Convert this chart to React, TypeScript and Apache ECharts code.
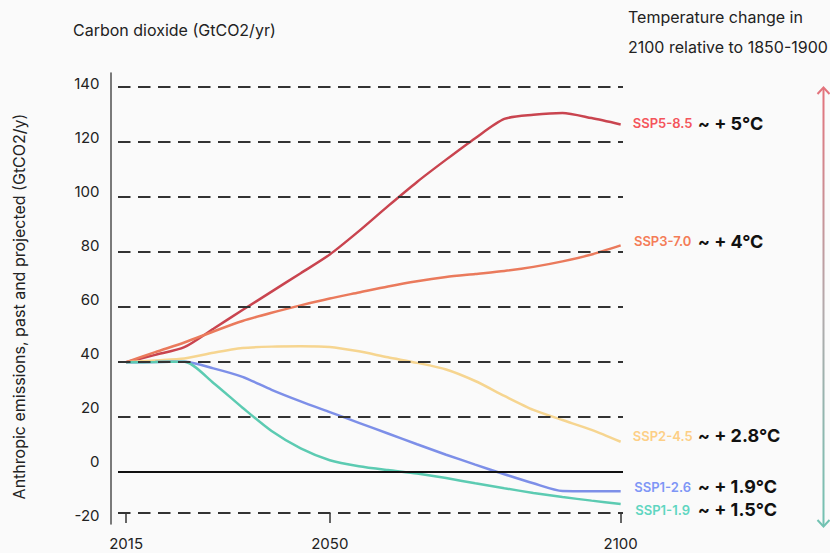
import React, { useEffect, useRef } from 'react';
import * as echarts from 'echarts';

// ---- data ----
const years = [2015, 2020, 2025, 2030, 2035, 2040, 2045, 2050, 2055, 2060, 2065, 2070, 2075, 2080, 2085, 2090, 2095, 2100];
const ssp585 = [39.8, 42.5, 45.3, 52, 58.8, 65.5, 72.2, 79, 87.5, 96.6, 105.4, 113.5, 121.3, 128.3, 129.8, 130.5, 128.6, 126.3];
const ssp370 = [39.8, 43.5, 47, 51, 54.8, 57.8, 60.5, 63, 65.2, 67.4, 69.3, 70.8, 71.9, 73, 74.5, 76.5, 79, 82.3];
const ssp245 = [39.8, 40.5, 41.2, 43.3, 45, 45.5, 45.6, 45.4, 43.8, 41.6, 39.6, 37.2, 33, 27.6, 22.5, 18.8, 15.2, 10.9];
const ssp126 = [39.8, 39.9, 40, 37.6, 34.5, 29.8, 25.6, 21.7, 17.8, 13.9, 10, 6.2, 2.6, -0.9, -4.2, -7, -7.1, -7.1];
const ssp119 = [39.8, 39.9, 40, 32.3, 23.3, 14.8, 8.5, 4.2, 2, 0.6, -0.6, -2.3, -4.2, -6, -7.7, -9.2, -10.5, -11.7];

const scenarioNames = ['SSP5-8.5', 'SSP3-7.0', 'SSP2-4.5', 'SSP1-2.6', 'SSP1-1.9'];
const scenarioValues = [ssp585, ssp370, ssp245, ssp126, ssp119];
const temperatures = ['~ + 5°C', '~ + 4°C', '~ + 2.8°C', '~ + 1.9°C', '~ + 1.5°C'];

const dashedLevels = [140, 120, 100, 80, 60, 40, 20, -15];
const zeroLevel = 0;
const yTickLabels = [140, 120, 100, 80, 60, 40, 20, 0, -20];
const xTicks = [2015, 2050, 2100];

// ---- styles ----
const lineColors = ['#c9444f', '#ea7a5c', '#f6d590', '#7d8fe8', '#5ccbb2'];
const labelColors = ['#f4545b', '#f47c57', '#fdcf86', '#7e96f6', '#5fd6c1'];
const labelOffsets = [-1, -4, -6, -4.5, 6];
const FONT = 'Inter, "Noto Sans", sans-serif';

export default function App() {
  const ref = useRef<HTMLDivElement>(null);

  useEffect(() => {
    document.body.style.margin = '0';
    const chart = echarts.init(ref.current as HTMLDivElement, null, { renderer: 'svg' });

    const series: any[] = [
      {
        type: 'line',
        xAxisIndex: 0,
        yAxisIndex: 0,
        data: [],
        silent: true,
        z: 1,
        markLine: {
          silent: true,
          symbol: ['none', 'none'],
          label: { show: false },
          data: [
            ...dashedLevels.map((v) => ({
              yAxis: v,
              lineStyle: { type: [12.5, 7.5], color: '#333', width: 2 },
            })),
            { yAxis: zeroLevel, lineStyle: { type: 'solid', color: '#111', width: 2 } },
          ],
        },
      },
    ];

    scenarioNames.forEach((name, i) => {
      const temp = temperatures[i];
      series.push({
        name,
        type: 'line',
        xAxisIndex: 0,
        yAxisIndex: 0,
        z: 3,
        data: years.map((y, k) => [y, scenarioValues[i][k]]),
        symbol: 'none',
        smooth: 0.25,
        lineStyle: { color: lineColors[i], width: 2.5 },
        endLabel: {
          show: true,
          distance: 11,
          offset: [0, labelOffsets[i]],
          formatter: () => `{n|${name}}{t|${temp}}`,
          rich: {
            n: {
              color: labelColors[i],
              fontFamily: FONT,
              fontSize: 13,
              fontWeight: 600,
              width: 62,
              align: 'right',
            },
            t: {
              color: '#111',
              fontFamily: FONT,
              fontSize: 18,
              fontWeight: 'bold',
              padding: [0, 0, 0, 4],
            },
          },
        },
      });
    });

    const arrowGradient = new echarts.graphic.LinearGradient(
      0, 88, 0, 526,
      [
        { offset: 0, color: '#e3737c' },
        { offset: 0.5, color: '#b3a9ab' },
        { offset: 1, color: '#72c2b2' },
      ],
      true
    );

    chart.setOption({
      animation: false,
      backgroundColor: '#fafafa',
      textStyle: { fontFamily: FONT },
      grid: [
        { left: 118, right: 207, top: 73, bottom: 40 },
        { left: 110.5, width: 20, top: 73, bottom: 29 },
      ],
      xAxis: [
        {
          type: 'value',
          gridIndex: 0,
          min: 2013.6,
          max: 2100.4,
          axisLine: { show: false, onZero: false },
          splitLine: { show: false },
          axisTick: {
            show: true,
            customValues: xTicks,
            length: 10,
            lineStyle: { color: '#333', width: 1.5 },
          },
          axisLabel: {
            customValues: xTicks,
            margin: 23,
            color: '#222',
            fontSize: 15,
            fontFamily: FONT,
            formatter: (v: number) => String(v),
          },
        },
        { type: 'value', gridIndex: 1, min: 0, max: 1, show: false },
      ],
      yAxis: [
        { type: 'value', gridIndex: 0, min: -15, max: 145, show: false },
        {
          type: 'value',
          gridIndex: 1,
          min: -22.97,
          max: 143.8,
          axisLine: { show: true, onZero: false, lineStyle: { color: '#5a5a5a', width: 1.6 } },
          axisTick: { show: false },
          splitLine: { show: false },
          axisLabel: {
            customValues: yTickLabels,
            margin: 11,
            color: '#222',
            fontSize: 15,
            fontFamily: FONT,
            formatter: (v: number) => String(v),
          },
        },
      ],
      series,
      graphic: [
        {
          type: 'text',
          x: 73,
          y: 30,
          style: {
            text: 'Carbon dioxide (GtCO2/yr)',
            fontSize: 16,
            fontFamily: FONT,
            fill: '#222',
            verticalAlign: 'middle',
          },
        },
        {
          type: 'text',
          x: 628,
          y: 17,
          style: {
            text: 'Temperature change in',
            fontSize: 16,
            fontFamily: FONT,
            fill: '#222',
            verticalAlign: 'middle',
          },
        },
        {
          type: 'text',
          x: 628,
          y: 46.5,
          style: {
            text: '2100 relative to 1850-1900',
            fontSize: 16,
            fontFamily: FONT,
            fill: '#222',
            verticalAlign: 'middle',
          },
        },
        {
          type: 'text',
          x: 19,
          y: 306.5,
          rotation: Math.PI / 2,
          style: {
            text: 'Anthropic emissions, past and projected (GtCO2/y)',
            fontSize: 16,
            fontFamily: FONT,
            fill: '#222',
            align: 'center',
            verticalAlign: 'middle',
          },
        },
        {
          type: 'line',
          shape: { x1: 823.5, y1: 88, x2: 823.5, y2: 526 },
          style: { stroke: arrowGradient, lineWidth: 2 },
        },
        {
          type: 'polyline',
          shape: { points: [[817.5, 94], [823.5, 87.5], [829.5, 94]] },
          style: { stroke: '#e3737c', lineWidth: 2, fill: null },
        },
        {
          type: 'polyline',
          shape: { points: [[817.5, 520], [823.5, 526.5], [829.5, 520]] },
          style: { stroke: '#72c2b2', lineWidth: 2, fill: null },
        },
      ],
    });

    return () => {
      chart.dispose();
    };
  }, []);

  return (
    <div
      ref={ref}
      style={{ position: 'fixed', left: 0, top: 0, width: 830, height: 553 }}
    />
  );
}
